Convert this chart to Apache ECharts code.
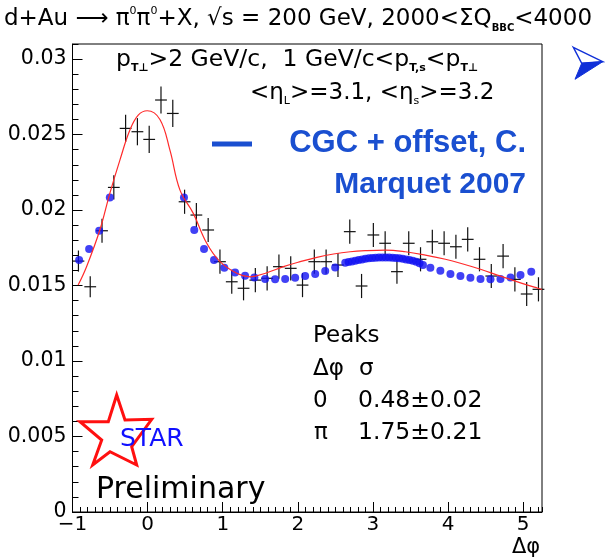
<!DOCTYPE html>
<html><head><meta charset="utf-8">
<script src="https://cdn.jsdelivr.net/npm/echarts@6/dist/echarts.min.js"></script>
<style>html,body{margin:0;padding:0;background:#fff}#c{width:605px;height:559px}</style>
</head><body><div id="c"></div>
<script>
// STAR data: delta-phi bin centres, coincidence signal and errors
const dataX = [-0.921,-0.764,-0.607,-0.450,-0.293,-0.136,0.021,0.178,0.335,0.492,0.649,0.806,0.963,1.120,1.277,1.434,1.591,1.748,1.905,2.062,2.219,2.376,2.534,2.691,2.848,3.005,3.162,3.319,3.476,3.633,3.790,3.947,4.104,4.261,4.418,4.575,4.732,4.889,5.046,5.203];
const dataY = [0.01662,0.01492,0.01863,0.0215,0.02541,0.02519,0.02468,0.02729,0.0264,0.02055,0.01967,0.01868,0.01658,0.01525,0.01482,0.01536,0.01548,0.01625,0.01614,0.01503,0.01658,0.01658,0.01636,0.01857,0.01497,0.01835,0.0178,0.01592,0.0178,0.01674,0.0179,0.0178,0.01757,0.01806,0.01674,0.01563,0.01695,0.01541,0.01444,0.01475];
const dataErr = [0.0007,0.0007,0.0008,0.0008,0.0009,0.0009,0.0009,0.0009,0.0009,0.0008,0.0008,0.0008,0.0008,0.0008,0.0008,0.0008,0.0008,0.0008,0.0008,0.0008,0.0008,0.0008,0.0008,0.0008,0.0008,0.0008,0.0008,0.0008,0.0008,0.0008,0.0008,0.0008,0.0008,0.0008,0.0008,0.0008,0.0008,0.0008,0.0008,0.0008];
const binHalfWidth = 0.0785;
// CGC + offset model (C. Marquet 2007)
const cgcX = [-0.912,-0.779,-0.645,-0.503,0.484,0.621,0.751,0.884,1.021,1.164,1.297,1.421,1.564,1.697,1.831,1.964,2.097,2.231,2.364,2.497,2.631,2.675,2.72,2.765,2.81,2.855,2.9,2.945,2.99,3.035,3.08,3.125,3.17,3.215,3.26,3.305,3.35,3.395,3.44,3.485,3.53,3.575,3.62,3.665,3.764,3.897,4.031,4.164,4.297,4.431,4.564,4.697,4.831,4.964,5.107];
const cgcY = [0.01669,0.01742,0.01863,0.02084,0.02084,0.01868,0.01742,0.01669,0.01618,0.01587,0.01565,0.01554,0.01543,0.01541,0.01543,0.01552,0.01563,0.01576,0.01596,0.0162,0.01651,0.01656,0.0166,0.01665,0.01669,0.01673,0.01677,0.0168,0.01682,0.01684,0.01685,0.01686,0.01686,0.01685,0.01684,0.01682,0.0168,0.01677,0.01673,0.01669,0.01664,0.01657,0.01648,0.01636,0.01618,0.01598,0.01576,0.01563,0.01552,0.01543,0.01541,0.01543,0.01554,0.0157,0.01591];
// double-gaussian fit curve
const fitX = [-0.925,-0.813,-0.636,-0.503,-0.369,-0.236,-0.125,-0.005,0.164,0.297,0.431,0.608,0.787,0.964,1.187,1.364,1.587,1.808,2.031,2.253,2.475,2.697,2.897,3.164,3.431,3.697,3.964,4.164,4.431,4.697,4.964,5.195,5.25];
const fitY = [0.01503,0.01625,0.01868,0.02111,0.02331,0.0253,0.02629,0.02658,0.026,0.02397,0.02132,0.01978,0.0178,0.01658,0.01581,0.01558,0.01585,0.01625,0.01658,0.01687,0.01709,0.01724,0.01731,0.01735,0.01724,0.01702,0.01674,0.01648,0.01608,0.01562,0.01518,0.01482,0.01474];

const X_MIN = -1, X_MAX = 5.25, Y_MIN = 0, Y_MAX = 0.031;
const ROOTFONT = '"DejaVu Sans", "Liberation Sans", sans-serif';
const BOLDFONT = '"Liberation Sans", Arial, sans-serif';

const chart = echarts.init(document.getElementById('c'), null, {renderer: 'canvas'});
const black = '#000';
const grid = {left: 72.5, right: 63, top: 44, bottom: 47, show: true, borderColor: black, borderWidth: 1, backgroundColor: 'transparent'};

function mkX(interval, len, labels) {
  return {
    type: 'value', min: X_MIN, max: X_MAX, interval: interval, position: 'bottom', offset: 0,
    axisLine: {show: labels, onZero: false, lineStyle: {color: black, width: 1}},
    axisTick: {show: true, inside: true, length: len, lineStyle: {color: black, width: 1}},
    axisLabel: {show: labels, showMaxLabel: false, margin: 3, color: black, fontSize: 20, fontFamily: ROOTFONT,
      formatter: v => String(v).replace('-', '\u2212')},
    splitLine: {show: false}
  };
}
function mkY(interval, len, labels) {
  return {
    type: 'value', min: Y_MIN, max: Y_MAX, interval: interval, position: 'left', offset: 0,
    axisLine: {show: labels, onZero: false, lineStyle: {color: black, width: 1}},
    axisTick: {show: true, inside: true, length: len, lineStyle: {color: black, width: 1}},
    axisLabel: {show: labels, showMaxLabel: false, margin: 6, color: black, fontSize: 20.5, fontFamily: ROOTFONT},
    splitLine: {show: false}
  };
}

const errData = dataX.map((x, i) => [x, dataY[i], dataErr[i]]);
const cgcData = cgcX.map((x, i) => [x, cgcY[i]]);
const fitData = fitX.map((x, i) => [x, fitY[i]]);

const blue = '#1a4fd0';

const option = {
  animation: false,
  grid: grid,
  xAxis: [mkX(1, 10, true), mkX(0.1, 5, false)],
  yAxis: [mkY(0.005, 10, true), mkY(0.001, 6, false)],
  series: [
    {
      type: 'custom', xAxisIndex: 0, yAxisIndex: 0, z: 2,
      data: errData,
      renderItem: function (params, api) {
        const x = api.value(0), y = api.value(1), e = api.value(2);
        const c = api.coord([x, y]);
        const top = api.coord([x, y + e]);
        const bot = api.coord([x, y - e]);
        const l = api.coord([x - binHalfWidth, y]);
        const r = api.coord([x + binHalfWidth, y]);
        const st = {stroke: '#111', lineWidth: 1.2};
        return {type: 'group', children: [
          {type: 'line', shape: {x1: c[0], y1: top[1], x2: c[0], y2: bot[1]}, style: st},
          {type: 'line', shape: {x1: l[0], y1: c[1], x2: r[0], y2: c[1]}, style: st}
        ]};
      }
    },
    {
      type: 'scatter', xAxisIndex: 0, yAxisIndex: 0, z: 3,
      data: cgcData, symbol: 'circle', symbolSize: 8,
      itemStyle: {color: '#1212f2'}
    },
    {
      type: 'line', xAxisIndex: 0, yAxisIndex: 0, z: 4,
      data: fitData, smooth: 0.4, showSymbol: false, symbol: 'none',
      lineStyle: {color: '#ff2a2a', width: 1.2}
    }
  ],
  graphic: [
    // title
    {type: 'text', left: 4, top: 6, z: 10, style: {
      text: '{a|d+Au }{a|\u27f6 \u03c0}{s|0}{a|\u03c0}{s|0}{a|+X, \u221as = 200 GeV, 2000<\u03a3Q}{b|BBC}{a|<4000}',
      rich: {
        a: {fontSize: 23, fontFamily: ROOTFONT, fill: black, lineHeight: 27, verticalAlign: 'middle'},
        s: {fontSize: 11, fontFamily: ROOTFONT, fill: black, lineHeight: 12, verticalAlign: 'top'},
        b: {fontSize: 10, fontFamily: ROOTFONT, fill: black, lineHeight: 12, verticalAlign: 'bottom', fontWeight: 'bold'}
      }}},
    // cuts
    {type: 'text', left: 116, top: 48, z: 10, style: {
      text: '{a|p}{b|T\u22a5}{a|>2 GeV/c,  1 GeV/c<p}{b|T,s}{a|<p}{b|T\u22a5}',
      rich: {
        a: {fontSize: 23.5, fontFamily: ROOTFONT, fill: black, lineHeight: 27, verticalAlign: 'middle'},
        b: {fontSize: 11, fontFamily: ROOTFONT, fill: black, lineHeight: 12, verticalAlign: 'bottom', fontWeight: 'bold'}
      }}},
    {type: 'text', left: 250, top: 82, z: 10, style: {
      text: '{a|<\u03b7}{b|L}{a|>=3.1, <\u03b7}{b|s}{a|>=3.2}',
      rich: {
        a: {fontSize: 23, fontFamily: ROOTFONT, fill: black, lineHeight: 27, verticalAlign: 'middle'},
        b: {fontSize: 11, fontFamily: ROOTFONT, fill: black, lineHeight: 12, verticalAlign: 'bottom'}
      }}},
    // model legend
    {type: 'rect', shape: {x: 212, y: 141.5, width: 40, height: 5}, style: {fill: blue}, z: 10},
    {type: 'text', x: 526, y: 143, z: 10, style: {text: 'CGC + offset, C.', align: 'right', verticalAlign: 'middle',
      fontSize: 31, fontWeight: 'bold', fontFamily: BOLDFONT, fill: blue}},
    {type: 'text', x: 526, y: 185, z: 10, style: {text: 'Marquet 2007', align: 'right', verticalAlign: 'middle',
      fontSize: 30, fontWeight: 'bold', fontFamily: BOLDFONT, fill: blue}},
    // peaks table
    {type: 'text', x: 313, y: 336, z: 10, style: {text: 'Peaks', verticalAlign: 'middle', fontSize: 23, fontFamily: ROOTFONT, fill: black}},
    {type: 'text', x: 313, y: 369, z: 10, style: {text: '\u0394\u03c6', verticalAlign: 'middle', fontSize: 23, fontFamily: ROOTFONT, fill: black}},
    {type: 'text', x: 359, y: 369, z: 10, style: {text: '\u03c3', verticalAlign: 'middle', fontSize: 23, fontFamily: ROOTFONT, fill: black}},
    {type: 'text', x: 313, y: 401, z: 10, style: {text: '0', verticalAlign: 'middle', fontSize: 23, fontFamily: ROOTFONT, fill: black}},
    {type: 'text', x: 358, y: 401, z: 10, style: {text: '0.48\u00b10.02', verticalAlign: 'middle', fontSize: 23.5, fontFamily: ROOTFONT, fill: black}},
    {type: 'text', x: 314, y: 433, z: 10, style: {text: '\u03c0', verticalAlign: 'middle', fontSize: 23, fontFamily: ROOTFONT, fill: black}},
    {type: 'text', x: 358, y: 433, z: 10, style: {text: '1.75\u00b10.21', verticalAlign: 'middle', fontSize: 23.5, fontFamily: ROOTFONT, fill: black}},
    // STAR logo
    {type: 'polygon', z: 10, shape: {points: [[116.7,395],[125,420],[151.7,419.3],[131.7,446.7],[136.7,465],[110,451.7],[92.7,465],[101.7,440],[80,421.7],[108.3,421.7]]},
      style: {fill: 'none', stroke: '#ff1010', lineWidth: 3}},
    {type: 'text', x: 120, y: 439, z: 11, style: {text: 'STAR', verticalAlign: 'middle', fontSize: 25, fontFamily: ROOTFONT, fill: '#1010ff'}},
    {type: 'text', x: 96, y: 490, z: 10, style: {text: 'Preliminary', verticalAlign: 'middle', fontSize: 30, fontFamily: ROOTFONT, fill: black}},
    // x axis title
    {type: 'text', x: 526, y: 548, z: 10, style: {text: '\u0394\u03c6', align: 'center', verticalAlign: 'middle', fontSize: 21, fontFamily: ROOTFONT, fill: black}},
    // arrow bullet
    {type: 'polygon', z: 10, shape: {points: [[573.3,47.3],[602.7,61.7],[581.7,63.3]]}, style: {fill: '#fff', stroke: '#1030d8', lineWidth: 1.5}},
    {type: 'polygon', z: 10, shape: {points: [[581.7,63.3],[602.7,61.7],[575,79.3]]}, style: {fill: '#1030d8', stroke: '#1030d8', lineWidth: 1}}
  ]
};
chart.setOption(option);
</script>
</body></html>
